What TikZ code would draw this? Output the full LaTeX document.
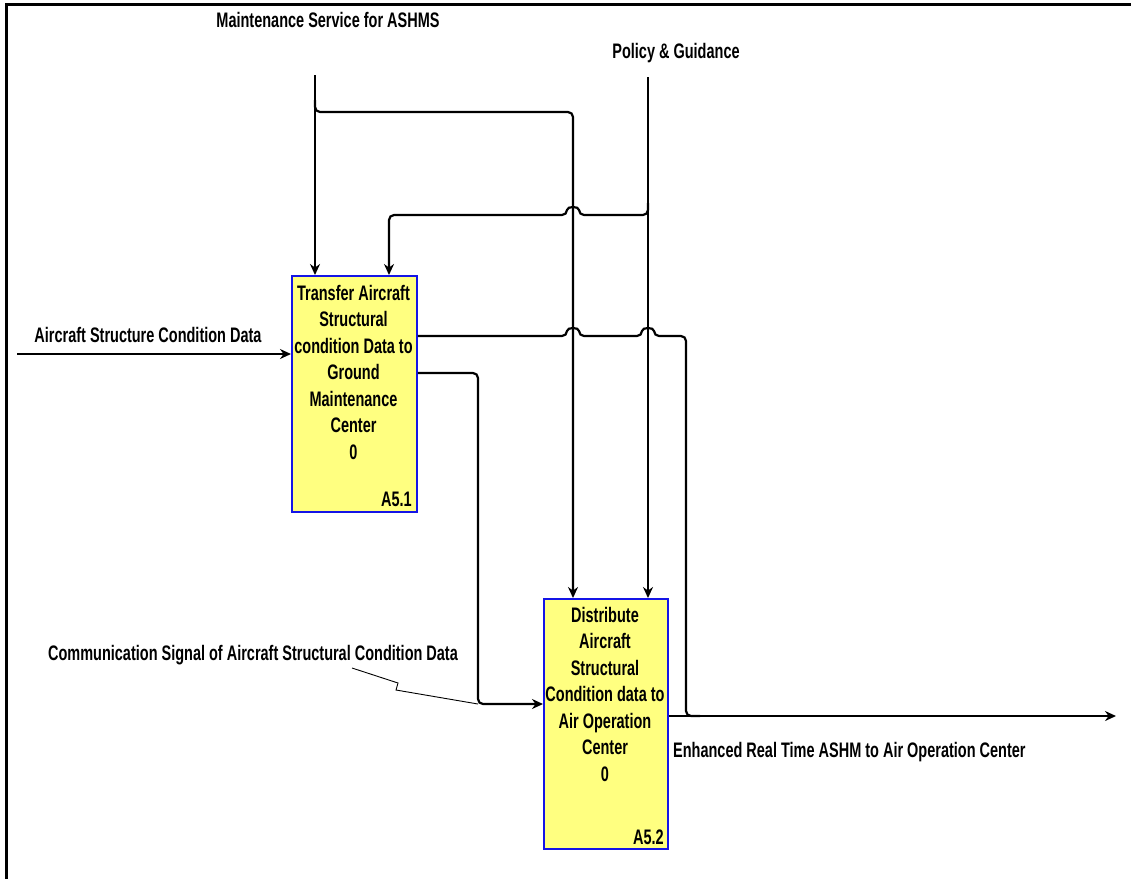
\documentclass[tikz,border=0pt]{standalone}
\usepackage{fontspec}
\setmainfont{Liberation Sans}[FakeStretch=0.74,BoldFeatures={FakeStretch=0.69}]
\usetikzlibrary{arrows.meta}
\definecolor{boxfill}{RGB}{255,255,128}
\definecolor{boxline}{RGB}{20,20,230}
\tikzset{
  lbl/.style={inner sep=0pt, font=\fontsize{21}{26.5}\selectfont\bfseries},
  boxtxt/.style={inner sep=0pt, align=center, anchor=north, font=\fontsize{21}{26.5}\selectfont\bfseries},
  actbox/.style={draw=boxline, fill=boxfill, line width=1.8pt, inner sep=0pt, anchor=north west},
  conn/.style={line width=2.2pt, rounded corners=5pt},
  arr/.style={conn, -{Stealth[length=11pt,width=10pt]}},
  squig/.style={line width=0.9pt},
  frame/.style={line width=3pt}
}
\begin{document}
\begin{tikzpicture}[x=1pt,y=-1pt]
\useasboundingbox (0,0) rectangle (1131,879);
% frame
\coordinate (fTL) at (6,4.5);
\coordinate (fTR) at (1131,4.5);
\coordinate (fBL) at (6,879);
\draw[frame] (fTR) -- (fTL) -- (fBL);

% boxes
\node[actbox, minimum width=125pt, minimum height=236pt] (b1) at (291,275) {};
\node[actbox, minimum width=124pt, minimum height=250pt] (b2) at (543,598) {};
\node[boxtxt] (t1) at (353.5,285) {Transfer Aircraft\\Structural\\condition Data to\\Ground\\Maintenance\\Center\\0};
\node[lbl, anchor=south east] (n1) at (412,507) {A5.1};
\node[boxtxt] (t2) at (605,607) {Distribute\\Aircraft\\Structural\\Condition data to\\Air Operation\\Center\\0};
\node[lbl, anchor=south east] (n2) at (664,845) {A5.2};

% labels
\node[lbl] (lMS) at (328,20) {Maintenance Service for ASHMS};
\node[lbl] (lPG) at (676,53) {Policy \& Guidance};
\node[lbl] (lAS) at (148,335) {Aircraft Structure Condition Data};
\node[lbl] (lCS) at (253,655) {Communication Signal of Aircraft Structural Condition Data};
\node[lbl, anchor=west] (lER) at (673,752) {Enhanced Real Time ASHM to Air Operation Center};

% coordinates
\coordinate (msTop) at (315,75);
\coordinate (pgTop) at (648,77);
\coordinate (inL) at (17,354);
\coordinate (outR) at (1116,716);
\coordinate (sq0) at (352,668);

% maintenance control
\draw[arr] (msTop) -- (b1.north west -| 315,0);
\draw[arr] (315,100) -- (315,112) -- (573,112) -- (b2.north west -| 573,0);
% policy control
\draw[arr] (pgTop) -- (b2.north west -| 648,0);
\draw[arr] (648,203) -- (648,215) -- (579,215) .. controls (579,206) and (567,206) .. (567,215) -- (389,215) -- (b1.north west -| 389,0);
% input
\draw[arr] (inL) -- (b1.west |- 0,354);
% output 1 of A5.1 joining output of A5.2
\draw[conn] (b1.east |- 0,336) -- (567,336) .. controls (567,327) and (579,327) .. (579,336) -- (642,336) .. controls (642,327) and (654,327) .. (654,336) -- (686,336) -- (686,716) -- (700,716);
% output 2 of A5.1 into A5.2
\draw[arr] (b1.east |- 0,373) -- (478,373) -- (478,704) -- (b2.west |- 0,704);
% output of A5.2
\draw[arr] (b2.east |- 0,716) -- (outR);
% squiggle
\draw[squig] (sq0) -- (398,683) -- (396,690) -- (478,704);
\end{tikzpicture}
\end{document}
